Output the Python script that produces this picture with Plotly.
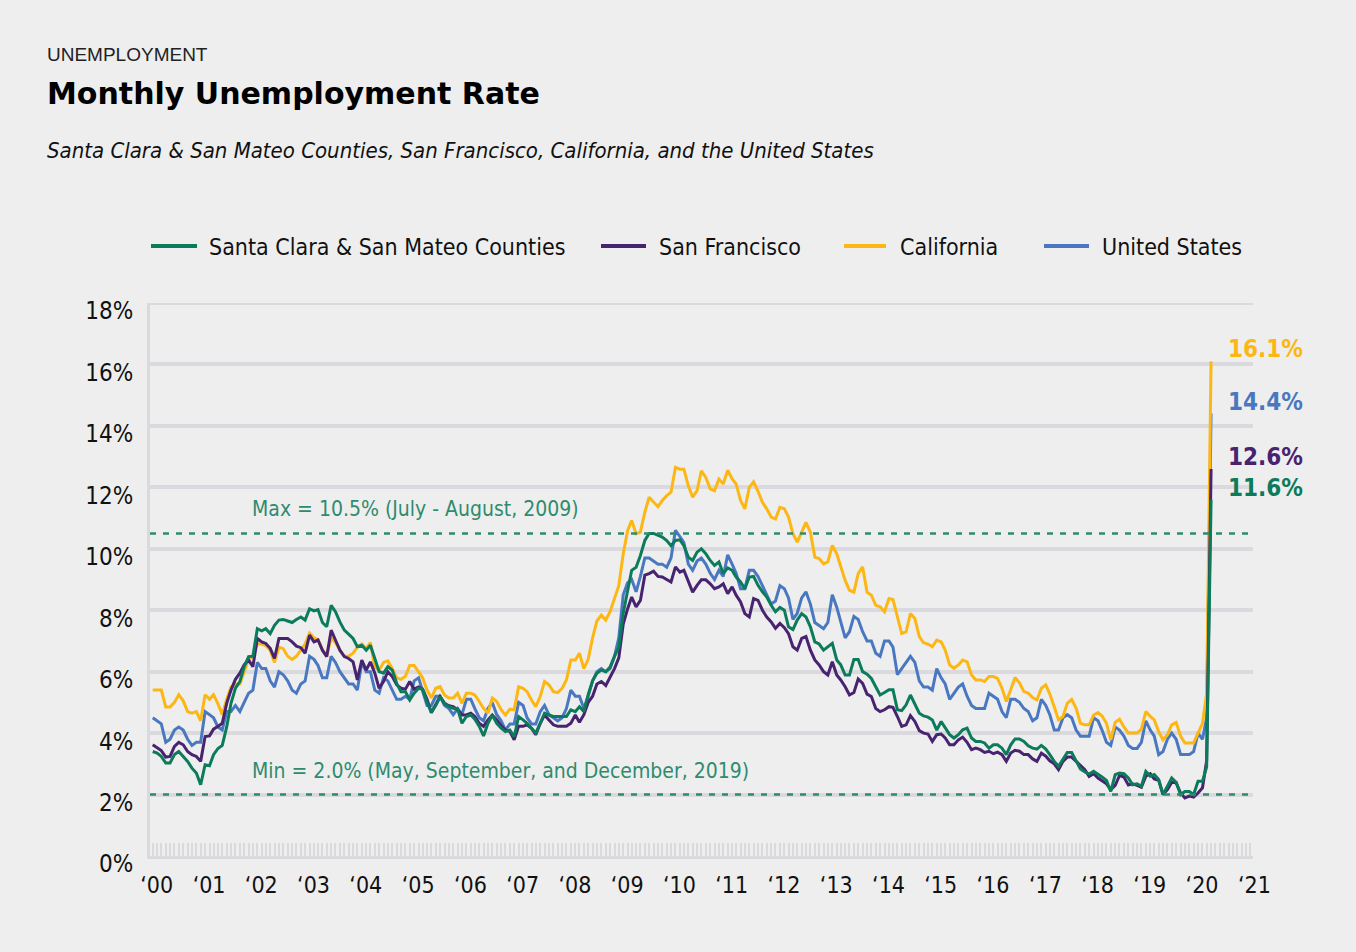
import pandas as pd
import plotly.graph_objects as go

# ---------------- data (monthly, Jan 2000 - Apr 2020) ----------------
santa_clara_san_mateo = [
    3.4, 3.35, 3.24, 3.03, 3.03, 3.3, 3.4, 3.24, 3.08, 2.86, 2.7, 2.32,          # 2000
    2.97, 2.94, 3.3, 3.5, 3.6, 4.2, 4.97, 5.46, 5.68, 6.16, 6.49, 6.5,           # 2001
    7.4, 7.33, 7.4, 7.24, 7.51, 7.68, 7.7, 7.65, 7.6, 7.7, 7.78, 7.68,           # 2002
    8.05, 7.98, 8.02, 7.6, 7.46, 8.16, 7.95, 7.62, 7.35, 7.22, 7.08, 6.81,       # 2003
    6.86, 6.7, 6.86, 6.43, 6.0, 5.95, 6.16, 6.05, 5.62, 5.35, 5.35, 5.08,        # 2004
    5.3, 5.46, 5.43, 5.0, 4.68, 4.9, 5.19, 4.97, 4.86, 4.81, 4.78, 4.32,         # 2005
    4.54, 4.59, 4.45, 4.22, 3.91, 4.32, 4.59, 4.32, 4.16, 4.05, 4.1, 3.88,       # 2006
    4.54, 4.43, 4.32, 4.16, 4.0, 4.32, 4.65, 4.59, 4.54, 4.54, 4.54, 4.54,       # 2007
    4.76, 4.7, 4.86, 4.7, 5.25, 5.7, 5.95, 6.05, 6.0, 6.15, 6.5, 6.8,            # 2008
    7.9, 8.7, 9.3, 9.4, 9.78, 10.27, 10.5, 10.5, 10.43, 10.38, 10.27, 10.1,      # 2009
    10.27, 10.29, 10.1, 9.73, 9.62, 9.89, 10.0, 9.84, 9.62, 9.46, 9.57, 9.19,    # 2010
    9.38, 9.3, 9.08, 8.92, 8.7, 9.08, 9.1, 8.81, 8.6, 8.43, 8.16, 7.95,          # 2011
    8.09, 8.0, 7.46, 7.37, 7.68, 7.89, 7.78, 7.46, 6.97, 6.9, 6.7, 6.81,         # 2012
    6.92, 6.38, 6.22, 5.89, 5.89, 6.4, 6.4, 6.0, 5.92, 5.78, 5.51, 5.24,         # 2013
    5.32, 5.41, 5.41, 4.76, 4.73, 4.92, 5.24, 4.97, 4.65, 4.56, 4.52, 4.43,      # 2014
    4.1, 4.38, 4.16, 3.95, 3.84, 3.95, 4.11, 4.16, 3.84, 3.73, 3.73, 3.68,       # 2015
    3.51, 3.62, 3.62, 3.51, 3.3, 3.62, 3.81, 3.81, 3.73, 3.59, 3.51, 3.48,       # 2016
    3.6, 3.48, 3.3, 3.08, 2.92, 3.16, 3.37, 3.37, 3.08, 2.83, 2.74, 2.67,        # 2017
    2.76, 2.67, 2.57, 2.46, 2.1, 2.65, 2.7, 2.68, 2.54, 2.32, 2.35, 2.27,        # 2018
    2.75, 2.6, 2.65, 2.49, 2.0, 2.27, 2.54, 2.4, 2.0, 2.1, 2.1, 2.0,             # 2019
    2.43, 2.43, 2.9, 11.6,                                                       # 2020
]
san_francisco = [
    3.62, 3.51, 3.43, 3.22, 3.24, 3.57, 3.7, 3.62, 3.4, 3.3, 3.24, 3.08,
    3.89, 3.91, 4.13, 4.22, 4.32, 4.97, 5.4, 5.75, 5.95, 6.22, 6.38, 6.16,
    7.08, 6.97, 6.92, 6.76, 6.43, 7.08, 7.08, 7.08, 6.97, 6.83, 6.78, 6.6,
    7.19, 6.97, 7.03, 6.7, 6.49, 7.35, 7.03, 6.7, 6.49, 6.43, 6.32, 5.73,
    6.38, 6.05, 6.32, 5.95, 5.46, 5.68, 6.0, 5.84, 5.57, 5.46, 5.43, 5.68,
    5.43, 5.5, 5.43, 5.1, 4.66, 4.95, 5.19, 4.97, 4.89, 4.86, 4.76, 4.59,
    4.59, 4.65, 4.54, 4.32, 4.22, 4.43, 4.59, 4.43, 4.24, 4.1, 4.05, 3.78,
    4.22, 4.22, 4.27, 4.16, 3.95, 4.32, 4.59, 4.43, 4.27, 4.22, 4.22, 4.22,
    4.32, 4.59, 4.35, 4.6, 5.0, 5.2, 5.6, 5.68, 5.55, 5.8, 6.1, 6.45,
    7.55, 8.05, 8.43, 8.11, 8.32, 9.14, 9.19, 9.27, 9.1, 9.08, 8.99, 8.92,
    9.41, 9.24, 9.3, 8.97, 8.59, 8.81, 8.99, 8.99, 8.86, 8.7, 8.76, 8.86,
    8.54, 8.76, 8.49, 8.27, 7.89, 7.78, 8.38, 8.32, 8.0, 7.78, 7.62, 7.41,
    7.57, 7.43, 7.24, 6.81, 6.7, 7.08, 7.14, 6.7, 6.38, 6.22, 6.0, 5.89,
    6.32, 5.89, 5.73, 5.51, 5.24, 5.32, 5.76, 5.62, 5.27, 5.19, 4.8, 4.7,
    4.76, 4.86, 4.84, 4.54, 4.22, 4.27, 4.57, 4.38, 4.08, 4.0, 3.97, 3.73,
    3.95, 3.97, 3.84, 3.62, 3.62, 3.78, 3.87, 3.7, 3.46, 3.51, 3.46, 3.37,
    3.41, 3.33, 3.38, 3.3, 3.08, 3.35, 3.44, 3.41, 3.3, 3.3, 3.16, 3.08,
    3.35, 3.25, 3.1, 3.0, 2.81, 3.08, 3.22, 3.22, 3.08, 2.97, 2.81, 2.59,
    2.68, 2.54, 2.46, 2.35, 2.16, 2.3, 2.62, 2.57, 2.31, 2.35, 2.3, 2.24,
    2.6, 2.68, 2.51, 2.46, 2.0, 2.16, 2.4, 2.38, 2.05, 1.89, 1.95, 1.92,
    2.05, 2.22, 3.1, 12.6,
]
california = [
    5.4, 5.4, 5.4, 4.85, 4.85, 5.0, 5.25, 5.05, 4.7, 4.65, 4.7, 4.4,
    5.25, 5.1, 5.25, 4.95, 4.6, 5.1, 5.5, 5.6, 5.6, 6.0, 6.4, 6.5,
    6.9, 6.9, 6.85, 6.7, 6.3, 6.8, 6.75, 6.5, 6.4, 6.5, 6.7, 6.9,
    7.25, 7.1, 7.05, 6.7, 6.5, 7.1, 6.95, 6.7, 6.5, 6.5, 6.6, 6.8,
    6.9, 6.75, 6.95, 6.15, 6.05, 6.3, 6.35, 6.1, 5.8, 5.75, 5.85, 6.2,
    6.2, 6.0, 5.8, 5.4, 5.15, 5.46, 5.51, 5.24, 5.14, 5.14, 5.3, 4.97,
    5.3, 5.3, 5.24, 5.03, 4.81, 4.65, 5.14, 5.03, 4.76, 4.59, 4.78, 4.76,
    5.51, 5.46, 5.35, 5.08, 4.86, 5.19, 5.68, 5.57, 5.35, 5.32, 5.46, 5.73,
    6.38, 6.38, 6.6, 6.1, 6.4, 7.1, 7.65, 7.84, 7.68, 7.95, 8.35, 8.8,
    9.84, 10.6, 10.92, 10.49, 10.54, 11.19, 11.68, 11.51, 11.37, 11.57, 11.73, 11.84,
    12.65, 12.59, 12.59, 12.05, 11.68, 11.89, 12.54, 12.32, 11.95, 11.89, 12.27, 12.11,
    12.56, 12.27, 12.11, 11.57, 11.3, 12.0, 12.18, 11.87, 11.51, 11.3, 11.03, 10.97,
    11.35, 11.3, 11.03, 10.49, 10.22, 10.54, 10.86, 10.54, 9.73, 9.68, 9.51, 9.57,
    10.11, 9.84, 9.41, 8.97, 8.65, 8.59, 9.19, 9.41, 8.59, 8.49, 8.16, 8.11,
    7.95, 8.38, 8.35, 7.78, 7.24, 7.3, 7.89, 7.73, 7.14, 6.94, 6.9, 6.81,
    7.03, 6.97, 6.7, 6.22, 6.11, 6.22, 6.38, 6.32, 5.89, 5.73, 5.73, 5.68,
    5.84, 5.84, 5.78, 5.46, 5.03, 5.41, 5.81, 5.64, 5.35, 5.3, 5.16, 5.08,
    5.46, 5.57, 5.27, 4.86, 4.43, 4.54, 4.97, 5.1, 4.81, 4.32, 4.27, 4.27,
    4.59, 4.67, 4.56, 4.32, 3.78, 4.35, 4.45, 4.2, 4.0, 4.0, 4.0, 4.13,
    4.7, 4.54, 4.43, 4.05, 3.78, 3.95, 4.27, 4.35, 3.9, 3.68, 3.68, 3.68,
    4.0, 4.32, 5.3, 16.1,
]
united_states = [
    4.5, 4.4, 4.3, 3.7, 3.8, 4.1, 4.2, 4.1, 3.8, 3.6, 3.7, 3.7,
    4.7, 4.6, 4.5, 4.2, 4.1, 4.7, 4.7, 4.9, 4.7, 5.0, 5.3, 5.4,
    6.3, 6.1, 6.1, 5.7, 5.5, 6.0, 5.9, 5.7, 5.4, 5.3, 5.6, 5.7,
    6.5, 6.4, 6.2, 5.8, 5.8, 6.5, 6.3, 6.0, 5.8, 5.6, 5.6, 5.4,
    6.3, 6.0, 6.0, 5.4, 5.3, 5.8, 5.7, 5.4, 5.1, 5.1, 5.2, 5.1,
    5.7, 5.8, 5.4, 4.9, 4.9, 5.2, 5.2, 4.9, 4.8, 4.6, 4.8, 4.6,
    5.1, 5.1, 4.8, 4.5, 4.4, 4.8, 5.0, 4.6, 4.4, 4.1, 4.3, 4.3,
    5.0, 4.9, 4.5, 4.3, 4.3, 4.7, 4.9, 4.6, 4.5, 4.4, 4.5, 4.8,
    5.4, 5.2, 5.2, 4.8, 5.2, 5.7, 6.0, 6.1, 6.0, 6.1, 6.5, 7.1,
    8.5, 8.9, 9.0, 8.6, 9.1, 9.7, 9.7, 9.6, 9.5, 9.5, 9.4, 9.7,
    10.6, 10.4, 10.2, 9.5, 9.3, 9.6, 9.7, 9.5, 9.2, 9.0, 9.3, 9.1,
    9.8, 9.5, 9.2, 8.7, 8.7, 9.3, 9.3, 9.1, 8.8, 8.5, 8.2, 8.3,
    8.8, 8.7, 8.4, 7.7, 7.9, 8.4, 8.6, 8.2, 7.6, 7.5, 7.4, 7.6,
    8.5, 8.1, 7.6, 7.1, 7.3, 7.8, 7.7, 7.3, 7.0, 7.0, 6.6, 6.5,
    7.0, 7.0, 6.8, 5.9, 6.1, 6.3, 6.5, 6.3, 5.7, 5.5, 5.5, 5.4,
    6.1, 5.8, 5.6, 5.1, 5.3, 5.5, 5.6, 5.2, 4.9, 4.8, 4.8, 4.8,
    5.3, 5.2, 5.1, 4.7, 4.5, 5.1, 5.1, 5.0, 4.8, 4.7, 4.4, 4.5,
    5.1, 4.9, 4.6, 4.1, 4.1, 4.5, 4.6, 4.5, 4.1, 3.9, 3.9, 3.9,
    4.5, 4.4, 4.1, 3.7, 3.6, 4.2, 4.1, 3.9, 3.6, 3.5, 3.5, 3.7,
    4.4, 4.1, 3.9, 3.3, 3.4, 3.8, 4.0, 3.8, 3.3, 3.3, 3.3, 3.4,
    4.0, 3.8, 4.5, 14.4,
]
series_names = ["Santa Clara & San Mateo Counties", "San Francisco", "California", "United States"]
year_ticks = [str(y) for y in range(2000, 2022)]
year_labels = ["\u2018" + str(y)[2:] for y in range(2000, 2022)]
y_ticks = [0, 2, 4, 6, 8, 10, 12, 14, 16, 18]
y_labels = [f"{v}%" for v in y_ticks]
MAX_VAL = 10.5
MIN_VAL = 2.0
max_text = "Max = 10.5% (July - August, 2009)"
min_text = "Min = 2.0% (May, September, and December, 2019)"
title_kicker = "UNEMPLOYMENT"
title_main = "Monthly Unemployment Rate"
subtitle = "Santa Clara & San Mateo Counties, San Francisco, California, and the United States"

# ---------------- styling ----------------
COLORS = {"Santa Clara & San Mateo Counties": "#0b7b5b", "San Francisco": "#48236f",
          "California": "#fdb714", "United States": "#4a78c0"}
BG = "#eeeeee"
GRID = "#d9d9de"
NOTE = "#2e8b6e"
NARROW = "DejaVu Sans Condensed, Liberation Sans Narrow, sans-serif"

dates = pd.date_range("2000-01-01", periods=len(united_states), freq="MS")
values = {
    "Santa Clara & San Mateo Counties": santa_clara_san_mateo,
    "San Francisco": san_francisco,
    "California": california,
    "United States": united_states,
}

# plot area in pixels
L, R, T, B = 150, 1253, 303, 856
W_IMG, H_IMG = 1356, 952


def px(x):
    return (x - L) / (R - L)


def py(y):
    return (B - y) / (B - T)


fig = go.Figure()
for name in ["United States", "California", "San Francisco", "Santa Clara & San Mateo Counties"]:
    fig.add_trace(go.Scatter(x=dates, y=values[name], mode="lines", name=name,
                             line=dict(color=COLORS[name], width=3), showlegend=False,
                             hoverinfo="skip"))

# top grid line (18%)
fig.add_shape(type="line", xref="paper", yref="y", x0=0, x1=1, y0=y_ticks[-1], y1=y_ticks[-1],
              line=dict(color=GRID, width=4), layer="below")

# reference dashed lines
for v in (MAX_VAL, MIN_VAL):
    fig.add_shape(type="line", xref="paper", yref="y", x0=0, x1=1, y0=v, y1=v,
                  line=dict(color=NOTE, width=2.5, dash="6px,7px"), layer="above")

fig.add_annotation(xref="paper", yref="y", x=px(250), y=MAX_VAL, yshift=24, xanchor="left",
                   text=max_text, showarrow=False, font=dict(family=NARROW, size=21, color=NOTE))
fig.add_annotation(xref="paper", yref="y", x=px(250), y=MIN_VAL, yshift=24, xanchor="left",
                   text=min_text, showarrow=False, font=dict(family=NARROW, size=21, color=NOTE))

# end labels
for name in series_names:
    last = values[name][-1]
    fig.add_annotation(x=dates[-1], y=last, xanchor="left", xshift=15, yshift=12,
                       text=f"<b>{last:.1f}%</b>", showarrow=False,
                       font=dict(family=NARROW, size=24, color=COLORS[name]))

# manual legend
legend_items = [
    ("Santa Clara & San Mateo Counties", 151, 197, 207),
    ("San Francisco", 601, 646, 657),
    ("California", 844, 886, 898),
    ("United States", 1044, 1089, 1100),
]
LEG_Y = 246
for name, x0, x1, xt in legend_items:
    fig.add_shape(type="line", xref="paper", yref="paper", x0=px(x0), x1=px(x1),
                  y0=py(LEG_Y), y1=py(LEG_Y), line=dict(color=COLORS[name], width=4))
    fig.add_annotation(xref="paper", yref="paper", x=px(xt), y=py(LEG_Y + 1), xanchor="left",
                       yanchor="middle", text=name, showarrow=False,
                       font=dict(family=NARROW, size=23, color="#111111"))

# titles
fig.add_annotation(xref="paper", yref="paper", x=px(45), y=py(55), xanchor="left", yanchor="middle",
                   text=title_kicker, showarrow=False,
                   font=dict(family="Liberation Sans, Arial, sans-serif", size=19, color="#222222", weight=300))
fig.add_annotation(xref="paper", yref="paper", x=px(45), y=py(93), xanchor="left", yanchor="middle",
                   text=f"<b>{title_main}</b>", showarrow=False,
                   font=dict(family="DejaVu Sans, sans-serif", size=30, color="#000000"))
fig.add_annotation(xref="paper", yref="paper", x=px(45), y=py(151), xanchor="left", yanchor="middle",
                   text=f"<i>{subtitle}</i>", showarrow=False,
                   font=dict(family=NARROW, size=22, color="#111111"))

fig.update_layout(
    width=W_IMG, height=H_IMG,
    margin=dict(l=L, r=W_IMG - R, t=T, b=H_IMG - B, autoexpand=False),
    paper_bgcolor=BG, plot_bgcolor=BG,
    xaxis=dict(type="date", range=["1999-12-13", "2021-01-19"],
               tickvals=year_ticks, ticktext=year_labels,
               tickfont=dict(family=NARROW, size=23, color="#111111"),
               showgrid=False, zeroline=False,
               showline=True, linecolor=GRID, linewidth=3,
               ticks="inside", ticklen=13, tickwidth=1.5, tickcolor=GRID,
               minor=dict(ticks="inside", dtick="M1", ticklen=13, tickwidth=1.5, tickcolor=GRID, showgrid=False),
               ticklabelshift=4, ticklabelstandoff=6),
    yaxis=dict(range=[0, 18], tickvals=y_ticks, ticktext=y_labels,
               tickfont=dict(family=NARROW, size=24, color="#111111"),
               showgrid=True, gridcolor=GRID, gridwidth=4, zeroline=False,
               showline=True, linecolor=GRID, linewidth=3,
               ticks="", ticklabelstandoff=9, ticklabelshift=8),
    showlegend=False,
)

fig.write_html(
    "out.html",
    config={"displayModeBar": False},
    post_script="document.body.style.margin='0';document.body.style.background='#eeeeee';document.body.style.overflow='hidden';",
)
